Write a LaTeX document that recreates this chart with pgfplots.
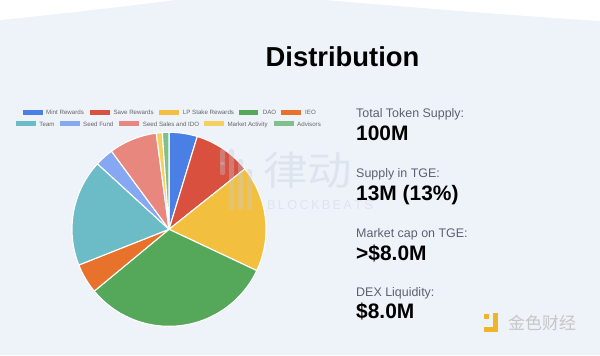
\documentclass[border=0pt]{standalone}
\usepackage{pgfplots}
\pgfplotsset{compat=1.18}
\usepackage{pgfplotstable}
\usepackage{fontspec}
\setmainfont{Liberation Sans}
\newfontfamily\cjk{Noto Sans CJK SC}
\definecolor{bgc}{HTML}{EEF2F9}
\definecolor{c0}{HTML}{4A7FE6}
\definecolor{c1}{HTML}{D9503F}
\definecolor{c2}{HTML}{F3BF3E}
\definecolor{c3}{HTML}{55A75A}
\definecolor{c4}{HTML}{E8722C}
\definecolor{c5}{HTML}{6BBCC6}
\definecolor{c6}{HTML}{86A8F2}
\definecolor{c7}{HTML}{E8877D}
\definecolor{c8}{HTML}{F5D061}
\definecolor{c9}{HTML}{7FC08C}
\definecolor{lab}{HTML}{5B6170}
\definecolor{leg}{HTML}{666666}
\definecolor{wm}{HTML}{C3CCDD}
\definecolor{logoy}{HTML}{F0B429}

\pgfplotstableread{
idx label value
0 Mint 4.7
1 Save 9.6
2 LP 17.7
3 DAO 32.0
4 IEO 5.0
5 Team 17.8
6 SeedFund 3.1
7 SeedSales 8.0
8 MarketActivity 1.0
9 Advisors 1.1
}\pietable
\pgfplotstablecreatecol[expr accum={\pgfmathaccuma + \thisrow{value}}{0}]{cum}\pietable

\begin{document}
\begin{tikzpicture}[x=1bp,y=1bp]
\fill[bgc] (0,0) rectangle (600,355);
\fill[white] (0,355) -- (0,335) .. controls (60,341) and (120,348) .. (175,355) -- cycle;
\fill[white] (325,355) .. controls (420,347) and (520,339) .. (600,334) -- (600,355) -- cycle;

\begin{axis}[
  at={(72bp,28.7bp)}, anchor=south west,
  width=194bp, height=194bp, scale only axis,
  xmin=-1, xmax=1, ymin=-1, ymax=1,
  hide axis, clip=false]
\pgfplotsinvokeforeach{0,...,9}{
  \pgfplotstablegetelem{#1}{cum}\of\pietable
  \pgfmathsetmacro\aStart{90-3.6*\pgfplotsretval}
  \pgfplotstablegetelem{#1}{value}\of\pietable
  \pgfmathsetmacro\aEnd{\aStart+3.6*\pgfplotsretval}
  \edef\doplot{\noexpand\addplot[fill=c#1, draw=white, line width=1.1bp, line join=round, domain=\aStart:\aEnd, samples=60, variable=\noexpand\t] ({cos(\noexpand\t)},{sin(\noexpand\t)}) -- (axis cs:0,0) -- cycle;}
  \doplot
}
\end{axis}

% watermark
\node[font=\cjk\fontsize{40}{40}\selectfont, text=wm, opacity=0.35, anchor=base west, inner sep=0, xscale=1.12] at (263,170) {律动};
\node[font=\fontsize{13}{13}\selectfont, text=wm, opacity=0.35, anchor=base west, inner sep=0] at (267,146) {B\,L\,O\,C\,K\,B\,E\,A\,T\,S};
\foreach \bx/\bt/\bb in {220/206/190, 220/193/180, 229/206/145, 238/196/145, 247/186/145}
  \fill[wm, opacity=0.35, rounded corners=2bp] (\bx,\bb) rectangle (\bx+5,\bt);

% legend
\foreach \sx/\tx/\col/\lab in {23/46/c0/Mint Rewards, 90/113.3/c1/Save Rewards, 159/182.7/c2/LP Stake Rewards, 238.7/262.7/c3/DAO, 281/305/c4/IEO}{
  \fill[\col] (\sx,240.5) rectangle (\sx+19.5,245);
  \node[anchor=base west, inner sep=0, font=\fontsize{6.2}{7}\selectfont, text=leg] at (\tx,240.5) {\lab};
}
\foreach \sx/\tx/\col/\lab in {16/39.3/c5/Team, 60/83/c6/Seed Fund, 119/142.7/c7/Seed Sales and IDO, 204/227.3/c8/Market Activity, 274/297/c9/Advisors}{
  \fill[\col] (\sx,229.3) rectangle (\sx+19.5,233.8);
  \node[anchor=base west, inner sep=0, font=\fontsize{6.2}{7}\selectfont, text=leg] at (\tx,229) {\lab};
}

% title
\node[anchor=base, inner sep=0, font=\bfseries\fontsize{27.5}{30}\selectfont] at (342.5,289) {Distribution};

% right panel
\node[anchor=base west, inner sep=0, font=\fontsize{12.5}{14}\selectfont, text=lab] at (356,237.3) {Total Token Supply:};
\node[anchor=base west, inner sep=0, font=\bfseries\fontsize{21}{24}\selectfont] at (356,215) {100M};
\node[anchor=base west, inner sep=0, font=\fontsize{12.5}{14}\selectfont, text=lab] at (356,177.3) {Supply in TGE:};
\node[anchor=base west, inner sep=0, font=\bfseries\fontsize{21}{24}\selectfont] at (356,154.7) {13M (13\%)};
\node[anchor=base west, inner sep=0, font=\fontsize{12.5}{14}\selectfont, text=lab] at (356,118) {Market cap on TGE:};
\node[anchor=base west, inner sep=0, font=\bfseries\fontsize{21}{24}\selectfont] at (356,95) {>\$8.0M};
\node[anchor=base west, inner sep=0, font=\fontsize{12.5}{14}\selectfont, text=lab] at (356,58.3) {DEX Liquidity:};
\node[anchor=base west, inner sep=0, font=\bfseries\fontsize{21}{24}\selectfont] at (356,36.7) {\$8.0M};

% bottom-right logo
\fill[logoy] (484,36) rectangle (489,41);
\fill[logoy] (493,23) rectangle (498,42);
\fill[logoy] (484,23) rectangle (498,28);
\node[anchor=base west, inner sep=0, font=\cjk\fontsize{17}{17}\selectfont, text=gray!45] at (508,26) {金色财经};

\pgfresetboundingbox
\path (0,0) rectangle (600,355);
\end{tikzpicture}
\end{document}
